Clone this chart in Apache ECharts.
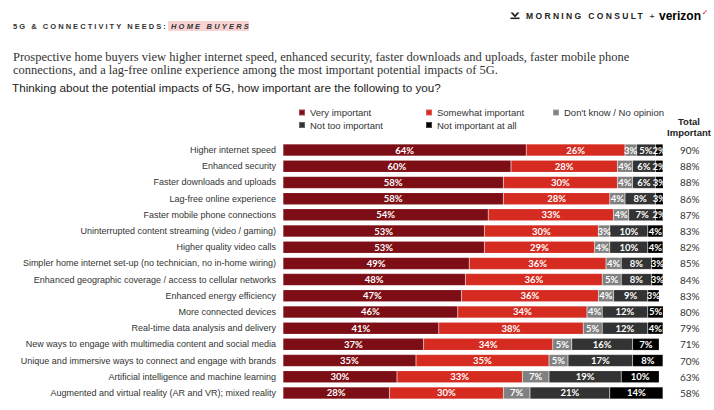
<!DOCTYPE html>
<html>
<head>
<meta charset="utf-8">
<script src="https://cdn.jsdelivr.net/npm/echarts@6/dist/echarts.min.js"></script>
<style>
  html, body { margin: 0; padding: 0; background: #fff; }
  #chart { width: 714px; height: 410px; }
</style>
</head>
<body>
<div id="chart"></div>
<script>
const categories = [
  "Higher internet speed",
  "Enhanced security",
  "Faster downloads and uploads",
  "Lag-free online experience",
  "Faster mobile phone connections",
  "Uninterrupted content streaming (video / gaming)",
  "Higher quality video calls",
  "Simpler home internet set-up (no technician, no in-home wiring)",
  "Enhanced geographic coverage / access to cellular networks",
  "Enhanced energy efficiency",
  "More connected devices",
  "Real-time data analysis and delivery",
  "New ways to engage with multimedia content and social media",
  "Unique and immersive ways to connect and engage with brands",
  "Artificial intelligence and machine learning",
  "Augmented and virtual reality (AR and VR); mixed reality"
];
const seriesNames = ["Very important", "Somewhat important", "Don't know / No opinion", "Not too important", "Not important at all"];
const veryImportant = [64, 60, 58, 58, 54, 53, 53, 49, 48, 47, 46, 41, 37, 35, 30, 28];
const somewhatImportant = [26, 28, 30, 28, 33, 30, 29, 36, 36, 36, 34, 38, 34, 35, 33, 30];
const dontKnow = [3, 4, 4, 4, 4, 3, 4, 4, 5, 4, 4, 5, 5, 5, 7, 7];
const notTooImportant = [5, 6, 6, 8, 7, 10, 10, 8, 8, 9, 12, 12, 16, 17, 19, 21];
const notImportantAtAll = [2, 2, 3, 3, 2, 4, 4, 3, 3, 3, 5, 4, 7, 8, 10, 14];
const totalImportant = [90, 88, 88, 86, 87, 83, 82, 85, 84, 83, 80, 79, 71, 70, 63, 58];

const colors = ["#7d0e15", "#d52b20", "#808080", "#333333", "#000000"];
const values = [veryImportant, somewhatImportant, dontKnow, notTooImportant, notImportantAtAll];

const chart = echarts.init(document.getElementById('chart'), null, { renderer: 'svg' });

const series = seriesNames.map((name, i) => ({
  name: name,
  type: 'bar',
  stack: 'total',
  barWidth: 12,
  itemStyle: { color: colors[i], borderColor: 'rgba(255,255,255,0.25)', borderWidth: 0.5 },
  label: {
    show: true,
    position: 'inside',
    formatter: p => p.value + '%',
    color: '#fff',
    fontFamily: 'Lato',
    fontWeight: 'bold',
    fontSize: 9.5
  },
  data: values[i]
}));

const legendBase = {
  orient: 'vertical',
  top: 102.5,
  itemWidth: 6,
  itemHeight: 6,
  itemGap: 2.5,
  icon: 'rect',
  selectedMode: false,
  textStyle: { color: '#333', fontSize: 9.5, fontFamily: 'Liberation Sans', lineHeight: 10 }
};

const HEADER = '5G & CONNECTIVITY NEEDS:';
const HEADER_HL = 'HOME BUYERS';
const LOGO = 'MORNING CONSULT';

chart.setOption({
  animation: false,
  legend: [
    Object.assign({}, legendBase, { left: 293, data: [seriesNames[0], seriesNames[3]] }),
    Object.assign({}, legendBase, { left: 420, data: [seriesNames[1], seriesNames[4]] }),
    Object.assign({}, legendBase, { left: 547, data: [seriesNames[2]] })
  ],
  grid: { left: 283, right: 51, top: 142, bottom: 9, containLabel: false },
  xAxis: { type: 'value', min: 0, max: 100, show: false },
  yAxis: [
    {
      type: 'category',
      data: categories,
      inverse: true,
      position: 'left',
      axisLine: { show: false },
      axisTick: { show: false },
      axisLabel: { margin: 7, color: '#333', fontSize: 9, fontFamily: 'Liberation Sans' }
    },
    {
      type: 'category',
      data: totalImportant.map(v => v + '%'),
      inverse: true,
      position: 'right',
      axisLine: { show: false },
      axisTick: { show: false },
      axisLabel: { margin: 17, color: '#333', fontSize: 10, fontFamily: 'Lato' }
    }
  ],
  series: series,
  graphic: [
    { type: 'rect', shape: { x: 168, y: 21, width: 81, height: 10 }, style: { fill: '#f8d3d3' } },
    { type: 'text', style: { x: 13, y: 26.5, text: HEADER, fill: '#333', font: 'bold 7.5px "Liberation Sans"', verticalAlign: 'middle' } },
    { type: 'text', style: { x: 171, y: 26.5, text: HEADER_HL, fill: '#333', font: 'italic bold 7.5px "Liberation Sans"', verticalAlign: 'middle' } },
    { type: 'polygon', shape: { points: [[510.5, 12.5], [513, 12.5], [515, 15], [517, 12.5], [519.5, 12.5], [515, 17.5]] }, style: { fill: '#222' } },
    { type: 'rect', shape: { x: 510.5, y: 17.5, width: 9, height: 1.6 }, style: { fill: '#222' } },
    { type: 'text', style: { x: 526, y: 15.5, text: LOGO, fill: '#222', font: 'bold 8.5px "Liberation Sans"', verticalAlign: 'middle' } },
    { type: 'text', style: { x: 652, y: 16, text: '+', fill: '#444', font: 'bold 8px "Liberation Sans"', verticalAlign: 'middle', align: 'center' } },
    { type: 'text', style: { x: 659, y: 15.5, text: 'verizon', fill: '#000', font: 'bold 12px "Liberation Sans"', verticalAlign: 'middle' } },
    { type: 'text', style: { x: 705, y: 12, text: '\u2713', fill: '#e3001b', font: 'bold 8px "DejaVu Sans"', verticalAlign: 'middle', align: 'center' } },
    { type: 'text', style: { x: 13, y: 57, text: 'Prospective home buyers view higher internet speed, enhanced security, faster downloads and uploads, faster mobile phone', fill: '#333', font: '12.5px "Liberation Serif"', verticalAlign: 'middle' } },
    { type: 'text', style: { x: 13, y: 69.6, text: 'connections, and a lag-free online experience among the most important potential impacts of 5G.', fill: '#333', font: '12.5px "Liberation Serif"', verticalAlign: 'middle' } },
    { type: 'text', style: { x: 12, y: 87.5, text: 'Thinking about the potential impacts of 5G, how important are the following to you?', fill: '#222', font: '11.7px "Liberation Sans"', verticalAlign: 'middle' } },
    { type: 'text', style: { x: 689, y: 121, text: 'Total', fill: '#222', font: 'bold 9.5px "Liberation Sans"', align: 'center', verticalAlign: 'middle' } },
    { type: 'text', style: { x: 689, y: 132, text: 'Important', fill: '#222', font: 'bold 9.5px "Liberation Sans"', align: 'center', verticalAlign: 'middle' } }
  ]
});

function applySpacing() {
  const spacing = {};
  spacing[HEADER] = '2.05px';
  spacing[HEADER_HL] = '2.2px';
  spacing[LOGO] = '2.35px';
  document.querySelectorAll('#chart text').forEach(t => {
    const s = spacing[t.textContent];
    if (s) t.setAttribute('letter-spacing', s);
  });
}
chart.on('finished', applySpacing);
setTimeout(applySpacing, 50);
</script>
</body>
</html>
